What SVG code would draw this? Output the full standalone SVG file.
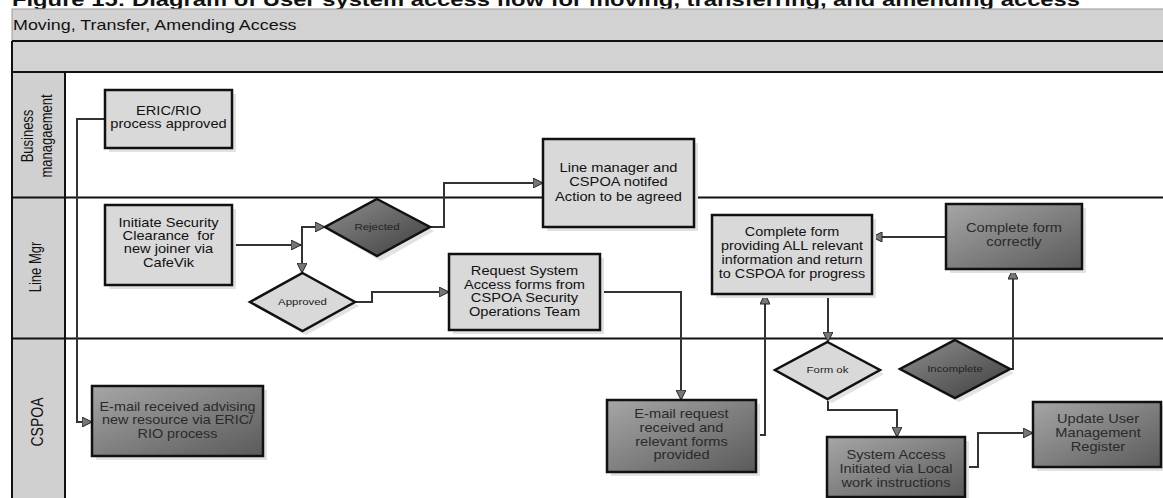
<svg xmlns="http://www.w3.org/2000/svg" width="1163" height="498" viewBox="0 0 1163 498">
<style>
.band{fill:#d2d2d2;}
.lanehdr{fill:#d0d0d0;stroke:#111;stroke-width:2;}
.laneline{stroke:#111;stroke-width:2;fill:none;}
.shadow{fill:#e2e2e2;}
.light{fill:#d9d9d9;stroke:#111;stroke-width:2.5;}
.dark{fill:url(#gDark);stroke:#111;stroke-width:2.5;}
.ddark{fill:url(#gDia);stroke:#111;stroke-width:2.5;}
.t{font-family:"Liberation Sans",Arial,sans-serif;font-size:12px;fill:#111;text-anchor:middle;}
.td{font-family:"Liberation Sans",Arial,sans-serif;font-size:12px;fill:#2a2a2a;text-anchor:middle;}
.dl{font-family:"Liberation Sans",Arial,sans-serif;font-size:9.5px;fill:#222;text-anchor:middle;}
.lt{font-family:"Liberation Sans",Arial,sans-serif;font-size:13px;fill:#111;text-anchor:middle;}
.conn{fill:none;stroke:#333;stroke-width:2;marker-end:url(#arr);}
.connn{fill:none;stroke:#333;stroke-width:2;}
</style>
<defs>
<linearGradient id="gDark" x1="0" y1="0" x2="1" y2="1">
<stop offset="0" stop-color="#a6a6a6"/>
<stop offset="1" stop-color="#5a5a5a"/>
</linearGradient>
<linearGradient id="gDia" x1="0" y1="0" x2="1" y2="1">
<stop offset="0" stop-color="#8e8e8e"/>
<stop offset="1" stop-color="#3e3e3e"/>
</linearGradient>
<marker id="arr" viewBox="0 0 10 10" refX="10" refY="5" markerWidth="11" markerHeight="10" markerUnits="userSpaceOnUse" orient="auto">
<path d="M0,0 L10,5 L0,10 Z" fill="#777" stroke="#222" stroke-width="1"/>
</marker>
</defs>

<g id="heading">
<text x="12" y="6" font-family="Liberation Sans,Arial,sans-serif" font-weight="bold" font-size="19" fill="#111" textLength="1068" lengthAdjust="spacingAndGlyphs">Figure 15: Diagram of User system access flow for moving, transferring, and amending access</text>
</g>

<g id="pool">
<rect class="band" x="12" y="9" width="1160" height="32" stroke="#9a9a9a" stroke-width="1"/>
<text class="t" style="font-size:14px;text-anchor:start" transform="translate(13,0) scale(1.28,1)" x="0" y="30">Moving, Transfer, Amending Access</text>
<rect class="band" x="12" y="41" width="1160" height="31"/>
<line class="laneline" x1="12" y1="41" x2="1163" y2="41"/>
<line class="laneline" x1="12" y1="72" x2="1163" y2="72"/>
<line class="laneline" x1="12" y1="41" x2="12" y2="72"/>
<rect class="lanehdr" x="12" y="72" width="53" height="430"/>
<line class="laneline" x1="12" y1="197.5" x2="1163" y2="197.5"/>
<line class="laneline" x1="12" y1="338.5" x2="1163" y2="338.5"/>
</g>

<g id="lane-business">
<text class="lt" transform="translate(33,136) scale(1.25,1) rotate(-90)" x="0" y="0">Business</text>
<text class="lt" transform="translate(52,136) scale(1.25,1) rotate(-90)" x="0" y="0">managaement</text>
</g>
<g id="lane-linemgr">
<text class="lt" transform="translate(41,267) scale(1.25,1) rotate(-90)" x="0" y="0">Line Mgr</text>
</g>
<g id="lane-cspoa">
<text class="lt" style="font-size:14px" transform="translate(43,422) scale(1.22,1) rotate(-90)" x="0" y="0">CSPOA</text>
</g>

<g id="connectors">
<path class="conn" d="M105,119 H77 V422 H92"/>
<path class="conn" d="M232,245 H301"/>
<path class="conn" d="M302,245 V227 H325"/>
<path class="conn" d="M302,245 V273"/>
<path class="conn" d="M430,227 H444 V183 H543"/>
<path class="conn" d="M355,302 H372 V292 H449"/>
<path class="conn" d="M600,292 H681 V400"/>
<path class="conn" d="M756,435 H765 V294"/>
<path class="conn" d="M828,294 V342"/>
<path class="conn" d="M828,399 V410 H897 V437"/>
<path class="conn" d="M1010,369 H1013 V269"/>
<path class="conn" d="M946,237 H872"/>
<path class="conn" d="M965,467 H978 V433 H1033"/>
</g>

<g id="n-eric">
<rect class="shadow" x="109" y="94" width="127" height="58"/>
<rect class="light" x="105" y="90" width="127" height="58"/>
<text class="t" transform="translate(168.5,0) scale(1.22,1)"><tspan x="0" y="115">ERIC/RIO</tspan><tspan x="0" y="128.5">process approved</tspan></text>
</g>

<g id="n-initiate">
<rect class="shadow" x="109" y="209" width="127" height="80"/>
<rect class="light" x="105" y="205" width="127" height="80"/>
<text class="t" transform="translate(168.5,0) scale(1.22,1)"><tspan x="0" y="226.7">Initiate Security</tspan><tspan x="0" y="240">Clearance&#160; for</tspan><tspan x="0" y="253.3">new joiner via</tspan><tspan x="0" y="266.7">CafeVik</tspan></text>
</g>

<g id="n-rejected">
<path class="shadow" d="M381,203 L434,231 L381,261 L329,231 Z"/>
<path class="ddark" d="M377,199 L430,227 L377,256 L325,227 Z"/>
<text class="dl" transform="translate(377,0) scale(1.2,1)" x="0" y="230.5">Rejected</text>
</g>

<g id="n-approved">
<path class="shadow" d="M306,277 L359,306 L306,335 L254,306 Z"/>
<path class="light" d="M302.5,273 L355,302 L302.5,331 L250,302 Z"/>
<text class="dl" transform="translate(302.5,0) scale(1.2,1)" x="0" y="305.5">Approved</text>
</g>

<g id="n-request">
<rect class="shadow" x="453" y="258" width="151" height="76"/>
<rect class="light" x="449" y="254" width="151" height="76"/>
<text class="t" transform="translate(524.5,0) scale(1.22,1)"><tspan x="0" y="275">Request System</tspan><tspan x="0" y="288.7">Access forms from</tspan><tspan x="0" y="302.4">CSPOA Security</tspan><tspan x="0" y="316">Operations Team</tspan></text>
</g>

<g id="n-linemanager">
<rect class="shadow" x="547" y="143" width="151" height="88"/>
<rect class="light" x="543" y="139" width="151" height="88"/>
<text class="t" transform="translate(618.5,0) scale(1.22,1)"><tspan x="0" y="172.3">Line manager and</tspan><tspan x="0" y="186.5">CSPOA notifed</tspan><tspan x="0" y="200.7">Action to be agreed</tspan></text>
</g>

<g id="n-completeform">
<rect class="shadow" x="716" y="219" width="160" height="79"/>
<rect class="light" x="712" y="215" width="160" height="79"/>
<text class="t" transform="translate(792,0) scale(1.2,1)"><tspan x="0" y="235.7">Complete form</tspan><tspan x="0" y="250">providing ALL relevant</tspan><tspan x="0" y="264.3">information and return</tspan><tspan x="0" y="278.3">to CSPOA for progress</tspan></text>
</g>

<g id="n-correctly">
<rect class="shadow" x="950" y="208" width="136" height="65"/>
<rect class="dark" x="946" y="204" width="136" height="65"/>
<text class="td" transform="translate(1014,0) scale(1.22,1)"><tspan x="0" y="232.3">Complete form</tspan><tspan x="0" y="246">correctly</tspan></text>
</g>

<g id="n-formok">
<path class="shadow" d="M832,346 L884,374 L832,403 L779,374 Z"/>
<path class="light" d="M827.5,342 L880,370 L827.5,399 L775,370 Z"/>
<text class="dl" transform="translate(827.5,0) scale(1.2,1)" x="0" y="373.5">Form ok</text>
</g>

<g id="n-incomplete">
<path class="shadow" d="M959,344 L1014,373 L959,402 L904,373 Z"/>
<path class="ddark" d="M955,340 L1010,369 L955,398 L900,369 Z"/>
<text class="dl" transform="translate(955,0) scale(1.2,1)" x="0" y="372.5">Incomplete</text>
</g>

<g id="n-emailreceived">
<rect class="shadow" x="96" y="390" width="171" height="70"/>
<rect class="dark" x="92" y="386" width="171" height="70"/>
<text class="td" transform="translate(177.5,0) scale(1.2,1)"><tspan x="0" y="411">E-mail received advising</tspan><tspan x="0" y="424.5">new resource via ERIC/</tspan><tspan x="0" y="438.3">RIO process</tspan></text>
</g>

<g id="n-emailrequest">
<rect class="shadow" x="611" y="404" width="149" height="72"/>
<rect class="dark" x="607" y="400" width="149" height="72"/>
<text class="td" transform="translate(681.5,0) scale(1.22,1)"><tspan x="0" y="417.7">E-mail request</tspan><tspan x="0" y="431.7">received and</tspan><tspan x="0" y="445.7">relevant forms</tspan><tspan x="0" y="459.3">provided</tspan></text>
</g>

<g id="n-systemaccess">
<rect class="shadow" x="831" y="441" width="138" height="60"/>
<rect class="dark" x="827" y="437" width="138" height="60"/>
<text class="td" transform="translate(896,0) scale(1.22,1)"><tspan x="0" y="459.3">System Access</tspan><tspan x="0" y="473.3">Initiated via Local</tspan><tspan x="0" y="487.3">work instructions</tspan></text>
</g>

<g id="n-update">
<rect class="shadow" x="1037" y="406" width="128" height="65"/>
<rect class="dark" x="1033" y="402" width="128" height="65"/>
<text class="td" transform="translate(1098,0) scale(1.22,1)"><tspan x="0" y="423.3">Update User</tspan><tspan x="0" y="437.3">Management</tspan><tspan x="0" y="450.7">Register</tspan></text>
</g>
</svg>
